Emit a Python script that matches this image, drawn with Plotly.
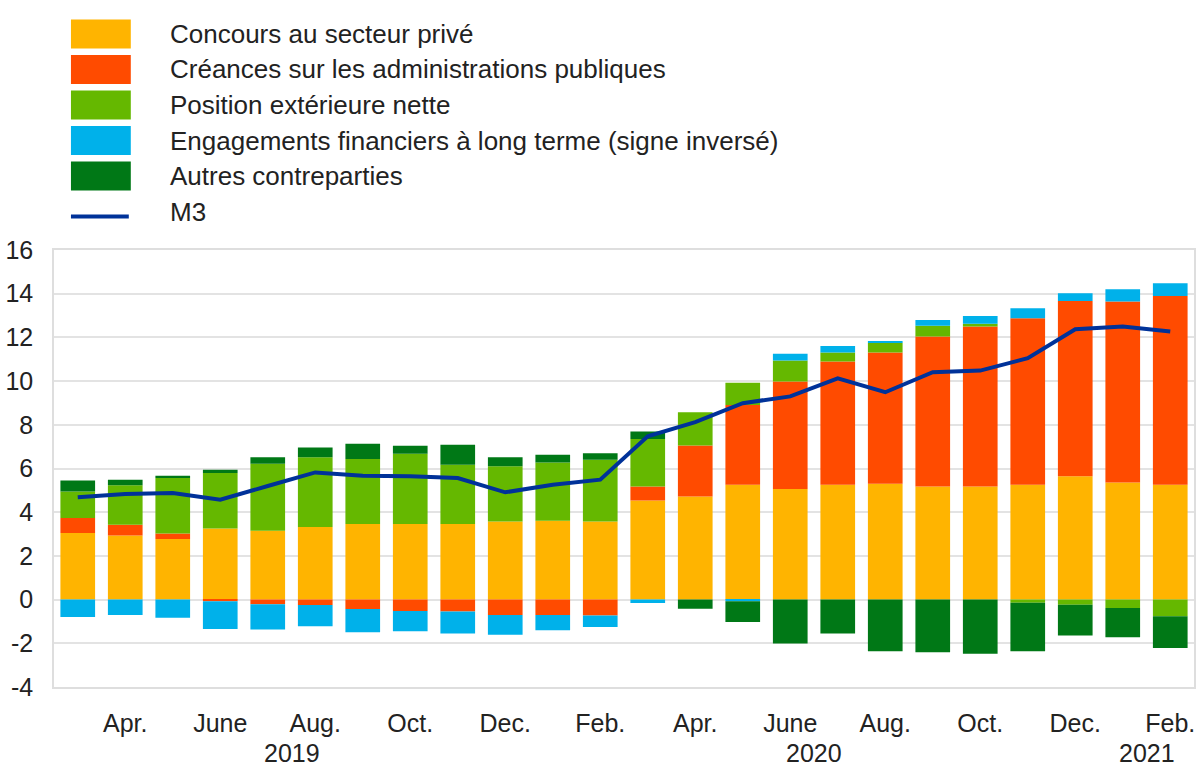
import plotly.graph_objects as go

months = ["2019-03", "2019-04", "2019-05", "2019-06", "2019-07", "2019-08", "2019-09",
          "2019-10", "2019-11", "2019-12", "2020-01", "2020-02", "2020-03", "2020-04",
          "2020-05", "2020-06", "2020-07", "2020-08", "2020-09", "2020-10", "2020-11",
          "2020-12", "2021-01", "2021-02"]

concours_prive = [3.05, 2.93, 2.77, 3.25, 3.15, 3.32, 3.46, 3.46, 3.46, 3.57, 3.61, 3.57,
                  4.54, 4.72, 5.26, 5.06, 5.26, 5.30, 5.18, 5.18, 5.26, 5.64, 5.36, 5.26]
creances_apu = [0.68, 0.50, 0.25, -0.08, -0.21, -0.25, -0.43, -0.52, -0.55, -0.70, -0.70, -0.73,
                0.64, 2.33, 3.65, 4.92, 5.64, 6.01, 6.86, 7.32, 7.62, 8.03, 8.28, 8.64]
position_ext = [1.22, 1.80, 2.54, 2.54, 3.07, 3.20, 2.97, 3.21, 2.71, 2.53, 2.67, 2.83,
                2.17, 1.53, 1.02, 0.96, 0.41, 0.45, 0.49, 0.12, -0.14, -0.24, -0.38, -0.76]
engagements_lt = [-0.80, -0.70, -0.83, -1.26, -1.16, -0.97, -1.06, -0.93, -1.00, -0.91, -0.70, -0.52,
                  -0.16, 0.00, -0.08, 0.31, 0.30, 0.08, 0.27, 0.36, 0.45, 0.35, 0.56, 0.58]
autres = [0.50, 0.26, 0.11, 0.15, 0.29, 0.44, 0.70, 0.37, 0.92, 0.41, 0.35, 0.30,
          0.34, -0.42, -0.94, -2.01, -1.55, -2.36, -2.41, -2.48, -2.22, -1.40, -1.34, -1.46]
m3 = [4.68, 4.83, 4.88, 4.57, 5.20, 5.82, 5.67, 5.64, 5.56, 4.91, 5.26, 5.49,
      7.47, 8.12, 8.99, 9.30, 10.13, 9.49, 10.41, 10.48, 11.05, 12.37, 12.50, 12.27]

tick_months = ["2019-04", "2019-06", "2019-08", "2019-10", "2019-12", "2020-02",
               "2020-04", "2020-06", "2020-08", "2020-10", "2020-12", "2021-02"]
tick_labels = ["Apr.", "June", "Aug.", "Oct.", "Dec.", "Feb.",
               "Apr.", "June", "Aug.", "Oct.", "Dec.", "Feb."]
years = ["2019", "2020", "2021"]
y_ticks = [-4, -2, 0, 2, 4, 6, 8, 10, 12, 14, 16]

bar_series = [
    ("Concours au secteur privé", concours_prive, "#FFB400"),
    ("Créances sur les administrations publiques", creances_apu, "#FF4B00"),
    ("Position extérieure nette", position_ext, "#65B800"),
    ("Engagements financiers à long terme (signe inversé)", engagements_lt, "#00B1EA"),
    ("Autres contreparties", autres, "#007816"),
]
m3_name, m3_color = "M3", "#003299"

W, H = 1201, 767
L, R, T, B = 53, 5, 250, 80
PW, PH = W - L - R, H - T - B
FONT = "Liberation Sans, Arial, sans-serif"
TXT = "#222222"
LEG_SIZE = 26
AX_SIZE = 25


def px_x(px):
    return (px - L) / PW


def px_y(py):
    return (H - B - py) / PH


fig = go.Figure()
for name, vals, col in bar_series:
    fig.add_trace(go.Bar(x=months, y=vals, name=name, marker=dict(color=col, line=dict(width=0)),
                         showlegend=False))
fig.add_trace(go.Scatter(x=months, y=m3, name=m3_name, mode="lines",
                         line=dict(color=m3_color, width=4), showlegend=False))

# hand-drawn legend (large swatches as in the original)
shapes = []
annotations = []
row_h = 35.5
row0 = 34
for i, (name, vals, col) in enumerate(bar_series):
    cy = row0 + i * row_h
    shapes.append(dict(type="rect", xref="paper", yref="paper",
                       x0=px_x(70), x1=px_x(130), y0=px_y(cy + 14.5), y1=px_y(cy - 14.5),
                       fillcolor=col, line=dict(width=0)))
    annotations.append(dict(text=name, xref="paper", yref="paper", x=px_x(167), y=px_y(cy),
                            xanchor="left", yanchor="middle", showarrow=False,
                            font=dict(size=LEG_SIZE, color=TXT, family=FONT)))
cy = row0 + len(bar_series) * row_h
shapes.append(dict(type="line", xref="paper", yref="paper",
                   x0=px_x(70), x1=px_x(128), y0=px_y(cy + 5), y1=px_y(cy + 5),
                   line=dict(color=m3_color, width=4)))
annotations.append(dict(text=m3_name, xref="paper", yref="paper", x=px_x(167), y=px_y(cy),
                        xanchor="left", yanchor="middle", showarrow=False,
                        font=dict(size=LEG_SIZE, color=TXT, family=FONT)))

# year labels centred under each year's months
for yr in years:
    idx = [i for i, m in enumerate(months) if m.startswith(yr)]
    annotations.append(dict(text=yr, xref="x", yref="paper", x=sum(idx) / len(idx), y=0,
                            yanchor="middle", xanchor="center", yshift=-66, showarrow=False,
                            font=dict(size=AX_SIZE, color=TXT, family=FONT)))

fig.update_layout(
    width=W, height=H,
    margin=dict(l=L, r=R, t=T, b=B, pad=0),
    barmode="relative",
    bargap=0.27,
    plot_bgcolor="white",
    paper_bgcolor="white",
    font=dict(family=FONT, size=AX_SIZE, color=TXT),
    shapes=shapes,
    annotations=annotations,
    xaxis=dict(
        type="category",
        categoryorder="array", categoryarray=months,
        tickmode="array", tickvals=tick_months, ticktext=tick_labels,
        ticks="outside", ticklen=13, tickcolor="rgba(0,0,0,0)",
        showgrid=False, showline=True, mirror=True, linecolor="#dedede", linewidth=1.5,
        tickfont=dict(size=AX_SIZE, color=TXT, family=FONT),
        range=[-0.5, len(months) - 0.5],
    ),
    yaxis=dict(
        range=[-4, 16],
        tickmode="array", tickvals=y_ticks, ticktext=[str(v) for v in y_ticks],
        ticks="outside", ticklen=14, tickcolor="rgba(0,0,0,0)",
        showgrid=True, gridcolor="#e3e3e3", gridwidth=1.5,
        zeroline=False,
        showline=True, mirror=True, linecolor="#dedede", linewidth=1.5,
        tickfont=dict(size=AX_SIZE, color=TXT, family=FONT),
    ),
)

fig.write_html("out.html")
